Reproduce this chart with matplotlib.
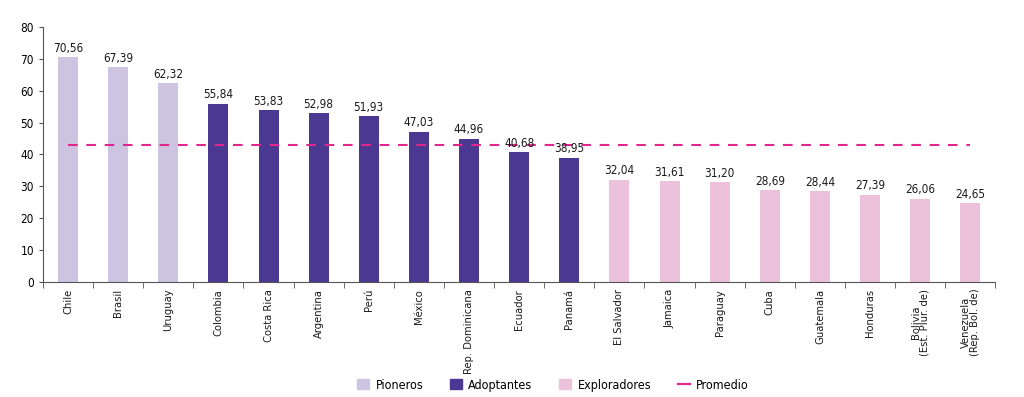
import matplotlib
matplotlib.use('Agg')
import matplotlib.pyplot as plt
import numpy as np
from matplotlib.patches import Patch
from matplotlib.lines import Line2D

plt.rcParams['font.family'] = ['DejaVu Sans']
plt.rcParams['font.stretch'] = 'condensed'

paises = ['Chile', 'Brasil', 'Uruguay', 'Colombia', 'Costa Rica', 'Argentina', 'Perú',
          'México', 'Rep. Dominicana', 'Ecuador', 'Panamá', 'El Salvador', 'Jamaica',
          'Paraguay', 'Cuba', 'Guatemala', 'Honduras', 'Bolivia\n(Est. Plur. de)',
          'Venezuela\n(Rep. Bol. de)']
valores = [70.56, 67.39, 62.32, 55.84, 53.83, 52.98, 51.93, 47.03, 44.96, 40.68, 38.95,
           32.04, 31.61, 31.20, 28.69, 28.44, 27.39, 26.06, 24.65]
grupos = ['Pioneros'] * 3 + ['Adoptantes'] * 8 + ['Exploradores'] * 8
promedio = 42.95

colores = {'Pioneros': '#cdc4e1', 'Adoptantes': '#4a3892', 'Exploradores': '#ecc1dc'}
color_prom = '#e0288c'

fig = plt.figure(figsize=(10.24, 3.97), dpi=100)
ax = fig.add_axes([0.042, 0.29, 0.930, 0.642])

x = np.arange(len(paises))
ax.bar(x, valores, width=0.4, color=[colores[g] for g in grupos])
ax.plot([x[0], x[-1]], [promedio, promedio], color=color_prom, lw=1.5, dashes=(4.6, 4.2))

for xi, v in zip(x, valores):
    ax.text(xi, v + 0.8, f'{v:.2f}'.replace('.', ','), ha='center', va='bottom',
            fontsize=8.5, color='#1a1a1a', zorder=5)

ax.set_xlim(-0.5, len(paises) - 0.5)
ax.set_ylim(0, 80)
ax.set_yticks(range(0, 81, 10))
ax.set_xticks(x)
ax.set_xticklabels(paises, rotation=90, fontsize=8, linespacing=0.9, color='#1a1a1a')
ax.set_xticks(np.arange(-0.5, len(paises), 1), minor=True)
ax.tick_params(axis='x', which='major', length=0, pad=5)
ax.tick_params(axis='x', which='minor', length=4, color='#555555')
ax.tick_params(axis='y', length=3, labelsize=8.5, color='#555555')
for s in ['top', 'right']:
    ax.spines[s].set_visible(False)
for s in ['left', 'bottom']:
    ax.spines[s].set_color('#555555')

handles = [Patch(color=colores['Pioneros'], label='Pioneros'),
           Patch(color=colores['Adoptantes'], label='Adoptantes'),
           Patch(color=colores['Exploradores'], label='Exploradores'),
           Line2D([], [], color=color_prom, lw=1.6, label='Promedio')]
fig.legend(handles=handles, loc='center', bbox_to_anchor=(0.54, 0.03), ncol=4,
           frameon=False, fontsize=9, handlelength=1.0, handleheight=0.8,
           columnspacing=2.1, handletextpad=0.5)

fig.savefig('out.png', dpi=100)
